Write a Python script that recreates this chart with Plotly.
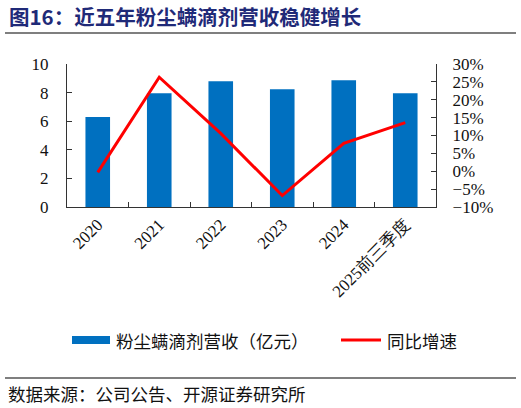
import plotly.graph_objects as go

categories = ["2020", "2021", "2022", "2023", "2024", "2025前三季度"]
revenue = [6.29, 7.95, 8.79, 8.23, 8.86, 7.95]          # 亿元
yoy_growth = [-0.003, 0.263, 0.106, -0.068, 0.078, 0.136]  # 同比增速

title_text = "图16：近五年粉尘螨滴剂营收稳健增长"
source_text = "数据来源：公司公告、开源证券研究所"
bar_name = "粉尘螨滴剂营收（亿元）"
line_name = "同比增速"

W, H = 521, 408
L, R, T, B = 67, 436, 64, 207   # plot area in pixels


def px_x(x):
    return (x - L) / (R - L)


def px_y(y):
    return (B - y) / (B - T)


blue = "#0070C0"
red = "#FF0000"
cjk = "Noto Sans CJK SC"
serif = "Liberation Serif, Times New Roman, serif"

fig = go.Figure()
fig.add_trace(go.Bar(x=categories, y=revenue, name=bar_name,
                     marker=dict(color=blue, line=dict(width=0)),
                     showlegend=False))
fig.add_trace(go.Scatter(x=categories, y=yoy_growth, name=line_name, yaxis="y2",
                         mode="lines", line=dict(color=red, width=3),
                         showlegend=False))

axis_common = dict(showline=True, linecolor="#333333", linewidth=1.3,
                   ticks="inside", ticklen=5, tickcolor="#333333",
                   showgrid=False, zeroline=False,
                   tickfont=dict(family=serif, size=17, color="#111111"))

fig.update_layout(
    width=W, height=H,
    margin=dict(l=L, r=W - R, t=T, b=H - B, pad=0),
    paper_bgcolor="white", plot_bgcolor="white",
    bargap=0.6,
    xaxis=dict(axis_common, tickangle=-45, tickson="boundaries"),
    yaxis=dict(axis_common, range=[0, 10], dtick=2, ticklabelstandoff=14),
    yaxis2=dict(axis_common, range=[-0.1, 0.3], dtick=0.05, tickformat=".0%",
                overlaying="y", side="right", ticklabelstandoff=12),
)

# title and footer
fig.add_annotation(text="<b>" + title_text + "</b>", xref="paper", yref="paper",
                   x=px_x(7), y=px_y(16), xanchor="left", yanchor="middle",
                   showarrow=False, font=dict(family=cjk, size=20.5, color="#1F2A78"))
fig.add_annotation(text=source_text, xref="paper", yref="paper",
                   x=px_x(6), y=px_y(393), xanchor="left", yanchor="middle",
                   showarrow=False, font=dict(family=cjk, size=17.5, color="#111111"))
fig.add_shape(type="line", xref="paper", yref="paper",
              x0=px_x(5), x1=px_x(516), y0=px_y(33), y1=px_y(33),
              line=dict(color="#555555", width=1.5))
fig.add_shape(type="line", xref="paper", yref="paper",
              x0=px_x(5), x1=px_x(516), y0=px_y(378), y1=px_y(378),
              line=dict(color="#555555", width=1.5))

# legend drawn by hand to match swatch shapes
fig.add_shape(type="rect", xref="paper", yref="paper",
              x0=px_x(72), x1=px_x(110), y0=px_y(344), y1=px_y(336),
              fillcolor=blue, line=dict(width=0))
fig.add_annotation(text=bar_name, xref="paper", yref="paper",
                   x=px_x(114), y=px_y(340), xanchor="left", yanchor="middle",
                   showarrow=False, font=dict(family=cjk, size=17.5, color="#111111"))
fig.add_shape(type="line", xref="paper", yref="paper",
              x0=px_x(341), x1=px_x(381), y0=px_y(340), y1=px_y(340),
              line=dict(color=red, width=3))
fig.add_annotation(text=line_name, xref="paper", yref="paper",
                   x=px_x(385), y=px_y(340), xanchor="left", yanchor="middle",
                   showarrow=False, font=dict(family=cjk, size=17.5, color="#111111"))

# drop the browser's default 8px body margin so the figure fills the window
fig.write_html("out.html", config={"displayModeBar": False},
               post_script="document.body.style.margin='0px';")
